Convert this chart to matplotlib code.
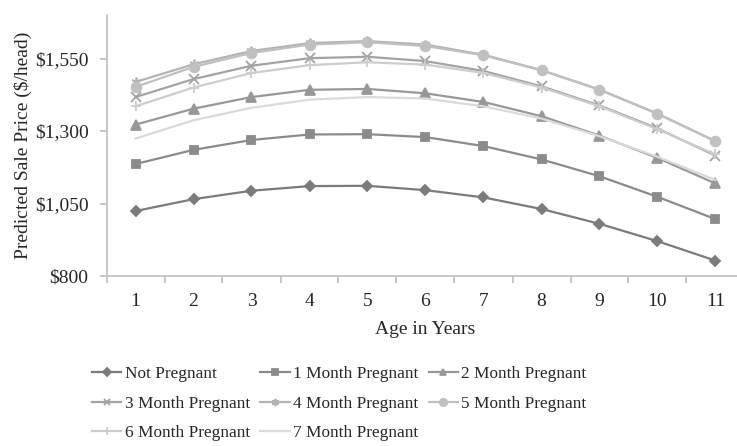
"""
Predicted sale price by age and pregnancy stage
"""

import matplotlib
matplotlib.use('Agg')
from matplotlib import pyplot as plt
from matplotlib.ticker import FixedLocator, FuncFormatter

ages = list(range(1, 12))
not_pregnant = [1024, 1065, 1094, 1110, 1111, 1096, 1071, 1031, 980, 920, 853]
month_1 = [1186, 1235, 1269, 1288, 1289, 1279, 1248, 1202, 1144, 1073, 996]
month_2 = [1322, 1377, 1417, 1442, 1445, 1430, 1400, 1351, 1284, 1207, 1119]
month_3 = [1417, 1479, 1525, 1551, 1556, 1541, 1507, 1454, 1388, 1309, 1215]
month_4 = [1469, 1530, 1576, 1603, 1610, 1598, 1563, 1510, 1443, 1360, 1265]
month_5 = [1452, 1521, 1569, 1598, 1606, 1593, 1561, 1509, 1442, 1359, 1264]
month_6 = [1385, 1450, 1500, 1527, 1537, 1529, 1500, 1450, 1385, 1306, 1219]
month_7 = [1274, 1337, 1380, 1408, 1417, 1412, 1385, 1343, 1282, 1211, 1131]

series = [
    ('Not Pregnant', not_pregnant, '#7b7b7b', 'D', 5),
    ('1 Month Pregnant', month_1, '#8b8b8b', 's', 6),
    ('2 Month Pregnant', month_2, '#989898', '^', 6.5),
    ('3 Month Pregnant', month_3, '#a3a3a3', 'x', 6.5),
    ('4 Month Pregnant', month_4, '#b3b3b3', (6, 2, 0), 7),
    ('5 Month Pregnant', month_5, '#c0c0c0', 'o', 7),
    ('6 Month Pregnant', month_6, '#cdcdcd', '+', 7),
    ('7 Month Pregnant', month_7, '#dadada', None, 0),
]

plt.rcParams['font.family'] = ['Liberation Serif', 'DejaVu Serif']

fig = plt.figure(figsize=(7.37, 4.46), dpi=100)
W, H = 737.0, 446.0
ax = fig.add_axes([106.5 / W, 1 - 276 / H, (744.5 - 106.5) / W, (276 - 15) / H])

for name, vals, color, marker, ms in series:
    ax.plot(ages, vals, color=color, lw=1.6, marker=marker, ms=ms,
            mew=1.3, mfc=color, mec=color, label=name)

ax.set_xlim(0.5, 11.5)
ax.set_ylim(800, 1700)
ax.yaxis.set_major_locator(FixedLocator([800, 1050, 1300, 1550]))
ax.yaxis.set_major_formatter(FuncFormatter(lambda v, p: '${:,.0f}'.format(v)))
ax.xaxis.set_major_locator(FixedLocator(ages))
ax.xaxis.set_minor_locator(FixedLocator([a - 0.5 for a in ages] + [11.5]))

for s in ['top', 'right']:
    ax.spines[s].set_visible(False)
for s in ['left', 'bottom']:
    ax.spines[s].set_color('#bfbfbf')
    ax.spines[s].set_linewidth(1.2)

ax.tick_params(axis='y', length=5, width=1.2, color='#bfbfbf', pad=8,
               labelsize=14, labelcolor='#262626')
ax.tick_params(axis='x', which='major', length=0, pad=12,
               labelsize=14, labelcolor='#262626')
ax.tick_params(axis='x', which='minor', length=5, width=1.2, color='#bfbfbf')

ax.set_xlabel('Age in Years', fontsize=14, color='#262626', labelpad=8)
ax.set_ylabel('Predicted Sale Price ($/head)', fontsize=14, color='#262626',
              labelpad=2)

# legend reads row by row, matplotlib fills column by column
handles, labels = ax.get_legend_handles_labels()
order = [0, 3, 6, 1, 4, 7, 2, 5]
ax.legend([handles[i] for i in order], [labels[i] for i in order],
          loc='upper left', bbox_to_anchor=(92 / W, 1 - 366 / H),
          bbox_transform=fig.transFigure, ncol=3, frameon=False,
          fontsize=12.4, handlelength=1.7, handletextpad=0.2,
          columnspacing=0.6, labelspacing=0.78, borderpad=0,
          borderaxespad=0, markerscale=0.75, labelcolor='#262626')

fig.savefig('out.png', dpi=100)
